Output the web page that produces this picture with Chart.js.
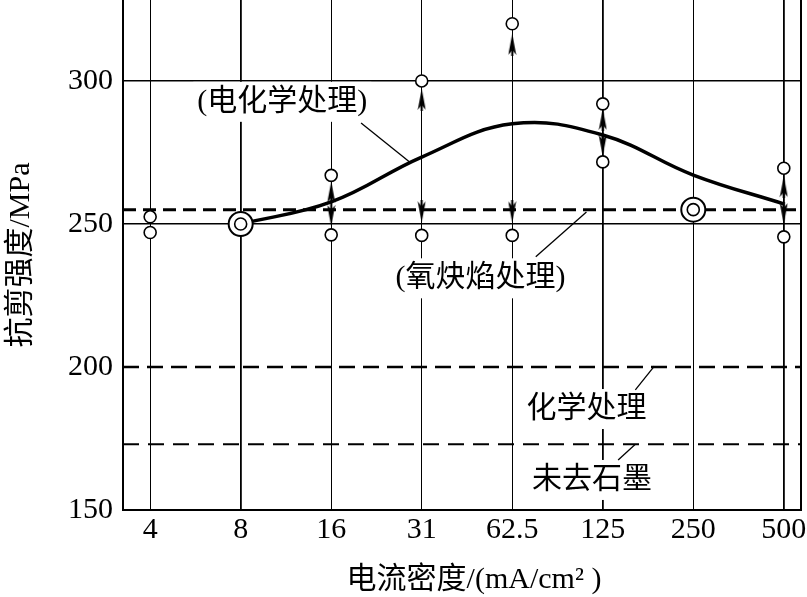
<!DOCTYPE html>
<html>
<head>
<meta charset="utf-8">
<script src="https://cdn.jsdelivr.net/npm/chart.js@4"></script>
<style>
  body { margin: 0; background: #fff; overflow: hidden; }
  #wrap { width: 807px; height: 597px; overflow: hidden; position: relative; }
  canvas { display: block; position: absolute; left: 0; top: -14px; }
</style>
</head>
<body>
<div id="wrap"><canvas id="chart" width="815" height="611"></canvas></div>
<script>
// current density categories (evenly spaced on the axis)
var cats = ['4', '8', '16', '31', '62.5', '125', '250', '500'];
var yTicks = [150, 200, 250, 300];

// electrochemical treatment curve
var curveVals = [null, 250, 257.7, 273.4, 285, 281.1, 267.1, 257];
// measured points (upper / lower of scatter band)
var upperVals = [252.5, null, 267, 300, 320, 292, null, 269.5];
var lowerVals = [247, null, 246.2, 246, 246, 271.7, null, 245.5];
// double-ring points
var ringVals = [null, 250, null, null, null, null, 255, null];
// arrow heads
var arrowUpVals = [null, null, 261, 293.4, 312.6, 286.4, null, 262.9];
var arrowDownVals = [null, null, 253.1, 254.4, 254.4, 277.6, null, 253.8];
// reference levels
var oxyLevel = 255;      // 氧炔焰处理
var chemLevel = 200;     // 化学处理
var graphiteLevel = 173; // 未去石墨

var X_MIN = -0.3, X_MAX = 7.19;
var Y_MIN = 150, Y_MAX = 328.3;

var serif = '"Liberation Serif", "Noto Sans CJK SC", serif';

function pts(vals) {
    var out = [];
    vals.forEach(function (v, i) { if (v !== null) out.push({x: i, y: v}); });
    return out;
}
function level(v) {
    return [{x: X_MIN, y: v}, {x: X_MAX, y: v}];
}

// narrow dart-like arrow head
function makeArrow() {
    var c = document.createElement('canvas');
    c.width = 9; c.height = 22;
    var g = c.getContext('2d');
    g.fillStyle = '#000';
    g.beginPath();
    g.moveTo(4.5, 0);
    g.lineTo(8.5, 21);
    g.lineTo(4.5, 16);
    g.lineTo(0.5, 21);
    g.closePath();
    g.fill();
    g.fillRect(3.5, 10, 2, 12);
    return c;
}
var arrowImg = makeArrow();

// annotations: label centre and leader line, in data units
var notes = [
    {text: '(电化学处理)', x: 1.46, y: 292.7, from: [2.33, 285.3], to: [2.88, 271.3]},
    {text: '(氧炔焰处理)', x: 3.65, y: 231, from: [4.82, 254.2], to: [4.26, 238.5]},
    {text: '化学处理', x: 4.82, y: 185.3, from: [5.57, 200.3], to: [5.36, 192]},
    {text: '未去石墨', x: 4.88, y: 160.5, from: [5.36, 173], to: [5.17, 167.5]}
];

var notesPlugin = {
    id: 'notes',
    beforeDatasetsDraw: function (chart) {
        var ctx = chart.ctx, xs = chart.scales.x, ys = chart.scales.y, a = chart.chartArea;
        ctx.save();
        // right frame line
        ctx.strokeStyle = '#000';
        ctx.lineWidth = 2;
        ctx.beginPath();
        ctx.moveTo(a.right, a.top);
        ctx.lineTo(a.right, a.bottom);
        ctx.stroke();

        ctx.font = '30px ' + serif;
        ctx.textAlign = 'center';
        ctx.textBaseline = 'middle';
        notes.forEach(function (n) {
            var px = xs.getPixelForValue(n.x), py = ys.getPixelForValue(n.y);
            var w = ctx.measureText(n.text).width;
            ctx.fillStyle = '#fff';
            ctx.fillRect(px - w / 2 - 4, py - 20, w + 8, 40);
        });
        ctx.lineWidth = 1.3;
        notes.forEach(function (n) {
            ctx.beginPath();
            ctx.moveTo(xs.getPixelForValue(n.from[0]), ys.getPixelForValue(n.from[1]));
            ctx.lineTo(xs.getPixelForValue(n.to[0]), ys.getPixelForValue(n.to[1]));
            ctx.stroke();
        });
        ctx.fillStyle = '#000';
        notes.forEach(function (n) {
            ctx.fillText(n.text, xs.getPixelForValue(n.x), ys.getPixelForValue(n.y));
        });
        ctx.restore();
    },
    afterDraw: function (chart) {
        var ctx = chart.ctx, a = chart.chartArea;
        ctx.save();
        ctx.fillStyle = '#000';
        ctx.font = '30px ' + serif;
        ctx.textAlign = 'center';
        ctx.textBaseline = 'middle';
        // axis titles, placed relative to the plot area
        ctx.fillText('电流密度/(mA/cm² )', 474, a.bottom + 70);
        ctx.translate(21, a.top + 255);
        ctx.rotate(-Math.PI / 2);
        ctx.fillText('抗剪强度/MPa', 0, 0);
        ctx.restore();
    }
};

var ctx = document.getElementById('chart').getContext('2d');
var myChart = new Chart(ctx, {
    type: 'line',
    data: {
        datasets: [
            {data: pts(ringVals), showLine: false, pointRadius: 6, pointBorderWidth: 1.6,
             pointBackgroundColor: '#fff', borderColor: '#000', order: 0},
            {data: pts(ringVals), showLine: false, pointRadius: 12, pointBorderWidth: 2,
             pointBackgroundColor: '#fff', borderColor: '#000', order: 1},
            {data: pts(upperVals), showLine: false, pointRadius: 6, pointBorderWidth: 1.6,
             pointBackgroundColor: '#fff', borderColor: '#000', order: 2},
            {data: pts(lowerVals), showLine: false, pointRadius: 6, pointBorderWidth: 1.6,
             pointBackgroundColor: '#fff', borderColor: '#000', order: 3},
            {data: pts(arrowUpVals), showLine: false, pointStyle: arrowImg, pointRadius: 5, order: 4},
            {data: pts(arrowDownVals), showLine: false, pointStyle: arrowImg, pointRotation: 180, pointRadius: 5, order: 5},
            {data: pts(curveVals), borderColor: '#000', borderWidth: 3.5, tension: 0.4,
             pointRadius: 0, order: 6},
            {data: level(oxyLevel), borderColor: '#000', borderWidth: 3, borderDash: [13, 7],
             pointRadius: 0, order: 7},
            {data: level(chemLevel), borderColor: '#000', borderWidth: 2.5, borderDash: [16, 8],
             pointRadius: 0, order: 8},
            {data: level(graphiteLevel), borderColor: '#000', borderWidth: 2, borderDash: [16, 9],
             pointRadius: 0, order: 9}
        ]
    },
    options: {
        responsive: false,
        animation: false,
        layout: {padding: {left: 0, right: 4, top: 0, bottom: 0}},
        plugins: {legend: {display: false}, tooltip: {enabled: false}},
        scales: {
            x: {
                type: 'linear',
                min: X_MIN,
                max: X_MAX,
                afterBuildTicks: function (scale) {
                    scale.ticks = cats.map(function (c, i) { return {value: i}; });
                },
                afterFit: function (scale) {
                    scale.height = 87;
                    scale.paddingLeft = 0;
                    scale.paddingRight = 0;
                },
                ticks: {
                    color: '#000',
                    font: {family: serif, size: 30},
                    padding: 2,
                    maxRotation: 0,
                    autoSkip: false,
                    callback: function (v) { return cats[v]; }
                },
                grid: {
                    color: '#000',
                    drawTicks: false,
                    lineWidth: function (c) {
                        var i = c.tick ? c.tick.value : -1;
                        return (i === 1 || i === 5 || i === 7) ? 1.8 : 1.0;
                    }
                },
                border: {display: true, color: '#000', width: 2}
            },
            y: {
                min: Y_MIN,
                max: Y_MAX,
                afterBuildTicks: function (scale) {
                    scale.ticks = yTicks.map(function (v) { return {value: v}; });
                },
                afterFit: function (scale) {
                    scale.width = 123;
                    scale.paddingTop = 0;
                    scale.paddingBottom = 0;
                },
                ticks: {
                    color: '#000',
                    font: {family: serif, size: 30},
                    padding: 10
                },
                grid: {
                    drawTicks: false,
                    lineWidth: 1.5,
                    color: function (c) {
                        var v = c.tick ? c.tick.value : null;
                        return (v === 300 || v === 250) ? '#000' : 'rgba(0,0,0,0)';
                    }
                },
                border: {display: true, color: '#000', width: 2}
            }
        }
    },
    plugins: [notesPlugin]
});
</script>
</body>
</html>
